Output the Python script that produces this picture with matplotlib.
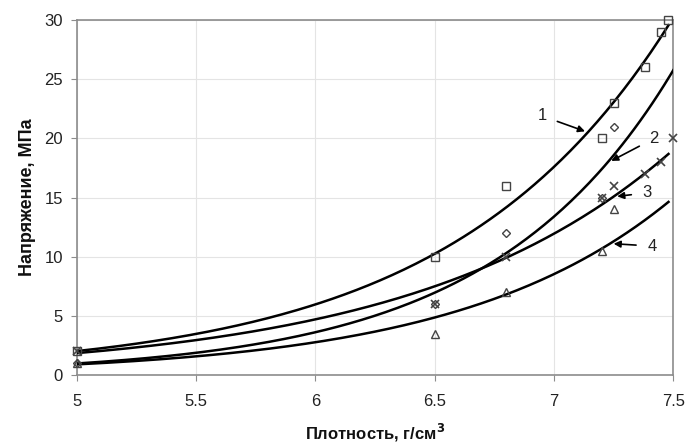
import numpy as np
import matplotlib.pyplot as plt

plt.rcParams['font.family'] = ['Liberation Sans', 'DejaVu Sans']

# данные
x1 = [5.0, 6.5, 6.8, 7.2, 7.25, 7.38, 7.45, 7.48]
y1 = [2.0, 10.0, 16.0, 20.0, 23.0, 26.0, 29.0, 30.0]
x2 = [5.0, 6.5, 6.8, 7.2, 7.25]
y2 = [1.0, 6.0, 12.0, 15.0, 21.0]
x3 = [5.0, 6.5, 6.8, 7.2, 7.25, 7.38, 7.45, 7.5]
y3 = [2.0, 6.0, 10.0, 15.0, 16.0, 17.0, 18.0, 20.0]
x4 = [5.0, 6.5, 6.8, 7.2, 7.25]
y4 = [1.0, 3.5, 7.0, 10.5, 14.0]

series = [
    (x1, y1, 's', 7.48, '1', (6.95, 21.9), (7.13, 20.6)),
    (x2, y2, 'D', 7.5, '2', (7.42, 20.0), (7.24, 18.1)),
    (x3, y3, 'x', 7.48, '3', (7.39, 15.4), (7.265, 15.1)),
    (x4, y4, '^', 7.48, '4', (7.41, 10.9), (7.25, 11.1)),
]

fig = plt.figure(figsize=(6.87, 4.47), dpi=100)
ax = fig.add_axes([0.112, 0.161, 0.868, 0.794])

for xs, ys, mk, xend, lab, txt, tip in series:
    # экспоненциальная линия тренда (как в Excel)
    b, lna = np.polyfit(xs, np.log(ys), 1)
    xx = np.linspace(5, xend, 200)
    ax.plot(xx, np.exp(lna + b * xx), color='black', lw=1.8, zorder=3)
    ms = 6 if mk != 'D' else 4.5
    ax.plot(xs, ys, linestyle='none', marker=mk, ms=ms, mfc='none',
            mec='#444444', mew=1.2 if mk == 'x' else 1.0, zorder=4, clip_on=False)
    ax.annotate(lab, xy=tip, xytext=txt, fontsize=12, ha='center', va='center',
                color='#222222',
                arrowprops=dict(arrowstyle='-|>', color='black', lw=1.2,
                                mutation_scale=10, shrinkA=6, shrinkB=0))

ax.set_xlim(5, 7.5)
ax.set_ylim(0, 30)
ax.set_xticks([5, 5.5, 6, 6.5, 7, 7.5])
ax.set_xticklabels(['5', '5.5', '6', '6.5', '7', '7.5'])
ax.set_yticks(range(0, 31, 5))
ax.grid(True, color='#e4e4e4', lw=0.8)
ax.set_axisbelow(True)
for s in ax.spines.values():
    s.set_color('#8c8c8c')
    s.set_linewidth(1.2)
ax.tick_params(labelsize=12, color='#8c8c8c', length=4, direction='out',
               labelcolor='#222222')
ax.tick_params(axis='x', pad=10)
ax.tick_params(axis='y', pad=6)
ax.set_xlabel('Плотность, г/см$^\\mathbf{3}$', fontsize=12, fontweight='bold',
              labelpad=9, color='#111111')
ax.set_ylabel('Напряжение, МПа', fontsize=13, fontweight='bold', labelpad=6,
              color='#111111')

fig.savefig('out.png', dpi=100)
